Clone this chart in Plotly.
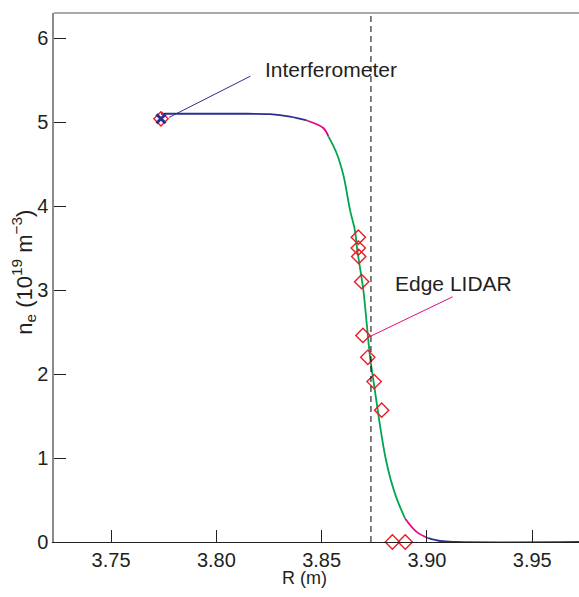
import plotly.graph_objects as go

# Fitted edge density profile (R in m, n_e in 1e19 m^-3)
R_fit = [3.7737, 3.8000, 3.8150, 3.8255, 3.8350, 3.8429, 3.8508, 3.8532, 3.8571, 3.8603,
         3.8635, 3.8658, 3.8669, 3.8698, 3.8714, 3.8730, 3.8753, 3.8777, 3.8801,
         3.8828, 3.8856, 3.8896, 3.8951, 3.9006, 3.9062, 3.9141, 3.9722]
ne_fit = [5.10, 5.10, 5.10, 5.095, 5.065, 5.02, 4.93, 4.83, 4.63, 4.37,
          3.95, 3.71, 3.48, 3.00, 2.60, 2.20, 1.80, 1.39, 1.03,
          0.74, 0.52, 0.28, 0.12, 0.045, 0.012, 0.0, 0.0]

# Colour segments of the fit: (start index, end index, colour)
fit_segments = [(0, 5, "#2b2f8f"), (5, 7, "#e5097f"), (7, 21, "#00a651"),
                (21, 23, "#e5097f"), (23, 26, "#2b2f8f")]

# Edge LIDAR measurements
R_lidar = [3.8674, 3.8674, 3.8676, 3.8690, 3.8696, 3.8719, 3.8749, 3.8785, 3.8836, 3.8897]
ne_lidar = [3.63, 3.50, 3.40, 3.10, 2.46, 2.20, 1.91, 1.57, 0.0, 0.0]

# Interferometer line-average point
R_interf = [3.7737]
ne_interf = [5.04]

# Separatrix position
R_sep = 3.8734

x_range = [3.7229, 3.9722]
y_range = [0, 6.3]
x_ticks = [3.75, 3.80, 3.85, 3.90, 3.95]
y_ticks = [0, 1, 2, 3, 4, 5, 6]

FONT = "Liberation Sans, Arial, Helvetica, sans-serif"
NARROW = "Liberation Sans Narrow, Arial Narrow, Liberation Sans, sans-serif"
TXT = "#231f20"

fig = go.Figure()

for i0, i1, col in fit_segments:
    fig.add_trace(go.Scatter(
        x=R_fit[i0:i1 + 1], y=ne_fit[i0:i1 + 1], mode="lines",
        line=dict(color=col, width=1.8, shape="spline", smoothing=1.0),
        showlegend=False, hoverinfo="skip", cliponaxis=True))

fig.add_trace(go.Scatter(
    x=R_lidar + R_interf, y=ne_lidar + ne_interf, mode="markers",
    marker=dict(symbol="diamond-open", size=11, color="#ed1c24",
                line=dict(width=1.4, color="#ed1c24")),
    showlegend=False, cliponaxis=False))

fig.add_trace(go.Scatter(
    x=R_interf, y=ne_interf, mode="markers",
    marker=dict(symbol="x-thin-open", size=9, color="#2b2f8f",
                line=dict(width=3, color="#2b2f8f")),
    showlegend=False, cliponaxis=False))

# Separatrix (dashed vertical)
fig.add_shape(type="line", xref="x", yref="paper", x0=R_sep, x1=R_sep, y0=0, y1=1,
              line=dict(color="black", width=1, dash="6px,4px"))

# Top frame line
fig.add_shape(type="line", xref="paper", yref="paper", x0=0, x1=1, y0=1, y1=1,
              line=dict(color="#555555", width=1.2))

# Label leader lines
fig.add_shape(type="line", xref="x", yref="y", x0=3.7775, y0=5.056, x1=3.8162, y1=5.548,
              line=dict(color="#2b2f8f", width=1))
fig.add_shape(type="line", xref="x", yref="y", x0=3.8721, y0=2.437, x1=3.9122, y1=2.92,
              line=dict(color="#e5097f", width=1))

fig.add_annotation(x=3.8222, y=5.63, xref="x", yref="y", text="Interferometer",
                   showarrow=False, xanchor="left", yanchor="middle",
                   font=dict(family=NARROW, size=21, color=TXT))
fig.add_annotation(x=3.8838, y=3.08, xref="x", yref="y", text="Edge LIDAR",
                   showarrow=False, xanchor="left", yanchor="middle",
                   font=dict(family=FONT, size=21, color=TXT))

# Axis titles
fig.add_annotation(x=0.478, y=-0.068, xref="paper", yref="paper", text="R (m)",
                   showarrow=False, xanchor="center", yanchor="middle",
                   font=dict(family=FONT, size=18, color=TXT))
fig.add_annotation(x=-0.058, y=0.51, xref="paper", yref="paper",
                   text="n<sub>e</sub> (10<sup>19</sup> m<sup>\u22123</sup>)",
                   textangle=-90, showarrow=False, xanchor="center", yanchor="middle",
                   font=dict(family=FONT, size=22, color=TXT))

fig.update_layout(
    width=579, height=597,
    margin=dict(l=54, r=0, t=13, b=55),
    paper_bgcolor="white", plot_bgcolor="white",
    xaxis=dict(range=x_range, tickvals=x_ticks, ticktext=[f"{v:.2f}" for v in x_ticks],
               ticks="inside", ticklen=12, tickwidth=1, tickcolor="#231f20",
               showline=True, linecolor="#231f20", linewidth=1.2,
               showgrid=False, zeroline=False,
               tickfont=dict(family=FONT, size=20, color=TXT)),
    yaxis=dict(range=y_range, tickvals=y_ticks,
               ticks="inside", ticklen=12, tickwidth=1, tickcolor="#231f20",
               showline=True, linecolor="#8a8a8a", linewidth=1.5,
               showgrid=False, zeroline=False,
               tickfont=dict(family=FONT, size=20, color=TXT)),
)

fig.write_html("out.html")
